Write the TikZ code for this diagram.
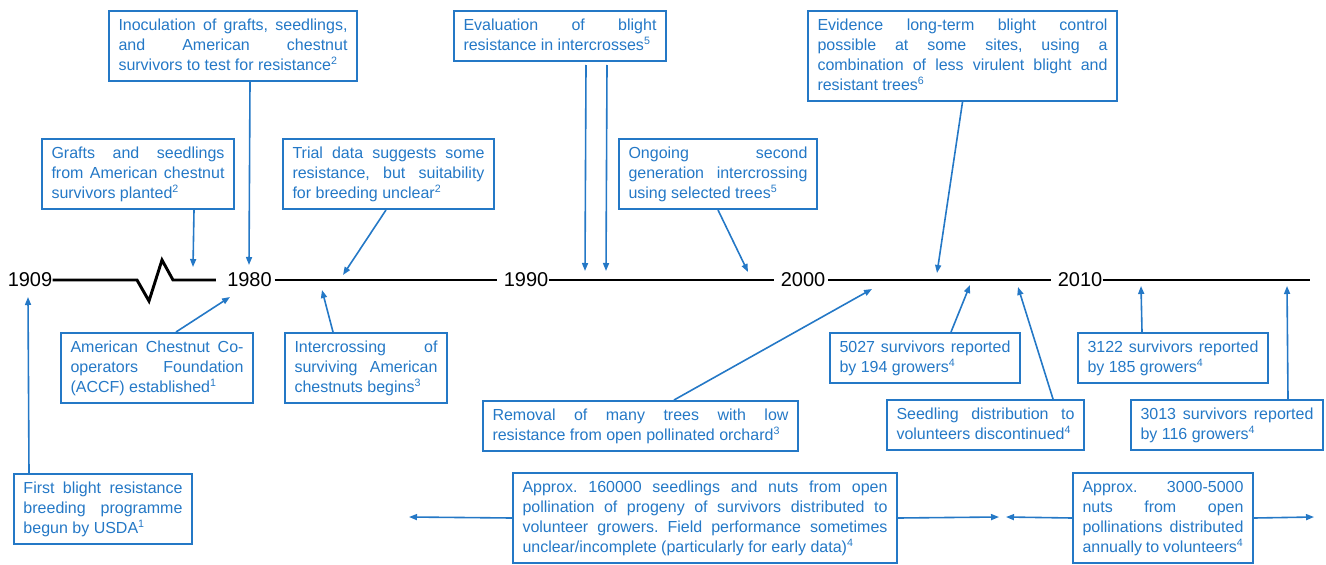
\documentclass[tikz,border=0pt]{standalone}
\usepackage{fontspec}
\setmainfont{Liberation Sans}
\usetikzlibrary{arrows.meta}
\definecolor{evblue}{RGB}{36,120,198}
\begin{document}
\begin{tikzpicture}[x=0.75pt,y=-0.75pt,
  box/.style={draw=evblue, line width=1.5pt, text=evblue, anchor=north west,
    inner xsep=7.125pt, inner ysep=3.75pt, align=justify, text width=#1,
    font={\fontsize{12}{15}\selectfont\frenchspacing\hyphenpenalty=10000\tolerance=9999}},
  year/.style={inner sep=0pt, font={\fontsize{15}{18}\selectfont}},
  arr/.style={draw=evblue, line width=1.2pt, -{Triangle[length=6pt,width=4.5pt]}},
  tl/.style={draw=black, line width=2.2pt}]
\useasboundingbox (0,0) rectangle (1326,564);

% timeline years
\node[year] (y1909) at (30,280) {1909};
\node[year] (y1980) at (249.5,280) {1980};
\node[year] (y1990) at (526,280) {1990};
\node[year] (y2000) at (803,280) {2000};
\node[year] (y2010) at (1080,280) {2010};

% break mark between 1909 and 1980
\coordinate (z1) at (137,280);
\coordinate (z2) at (149,301);
\coordinate (z3) at (162,260);
\coordinate (z4) at (173,280);
\coordinate (tEnd) at (1310,280);
\draw[tl] (y1909.east) -- (z1) -- (z2) -- (z3) -- (z4) -- ([xshift=-8.25pt]y1980.west);
\draw[tl] ([xshift=2pt]y1980.east) -- ([xshift=-4.5pt]y1990.west);
\draw[tl] (y1990.east) -- ([xshift=-5pt]y2000.west);
\draw[tl] ([xshift=2pt]y2000.east) -- ([xshift=-5pt]y2010.west);
\draw[tl] (y2010.east) -- (tEnd);

% events above the timeline
\node[box=171.75pt] (A) at (108,10) {\strut Inoculation of grafts, seedlings, \linebreak and American chestnut \linebreak survivors to test for resistance\textsuperscript{2}\strut};
\node[box=129.75pt] (B) at (41,138) {\strut Grafts and seedlings \linebreak from American chestnut \linebreak survivors planted\textsuperscript{2}\strut};
\node[box=144pt] (C) at (282,138) {\strut Trial data suggests some \linebreak resistance, but suitability \linebreak for breeding unclear\textsuperscript{2}\strut};
\node[box=144.75pt] (D) at (453,10) {\strut Evaluation of blight \linebreak resistance in intercrosses\textsuperscript{5}\strut};
\node[box=134.25pt] (E) at (618,138) {\strut Ongoing second \linebreak generation intercrossing \linebreak using selected trees\textsuperscript{5}\strut};
\node[box=217.5pt] (F) at (807,10) {\strut Evidence long-term blight control \linebreak possible at some sites, using a \linebreak combination of less virulent blight and \linebreak resistant trees\textsuperscript{6}\strut};

% events below the timeline
\node[box=129.75pt] (G) at (60,332) {\strut American Chestnut Co-\linebreak operators Foundation \linebreak (ACCF) established\textsuperscript{1}\strut};
\node[box=107.25pt] (H) at (284,332) {\strut Intercrossing of \linebreak surviving American \linebreak chestnuts begins\textsuperscript{3}\strut};
\node[box=119.25pt] (I) at (13,473) {\strut First blight resistance \linebreak breeding programme \linebreak begun by USDA\textsuperscript{1}\strut};
\node[box=222pt] (J) at (482,400) {\strut Removal of many trees with low \linebreak resistance from open pollinated orchard\textsuperscript{3}\strut};
\node[box=128.25pt] (K) at (829,332) {\strut 5027 survivors reported \linebreak by 194 growers\textsuperscript{4}\strut};
\node[box=133.5pt] (L) at (886,399) {\strut Seedling distribution to \linebreak volunteers discontinued\textsuperscript{4}\strut};
\node[box=128.25pt] (M) at (1077,332) {\strut 3122 survivors reported \linebreak by 185 growers\textsuperscript{4}\strut};
\node[box=129.75pt] (N) at (1130,399) {\strut 3013 survivors reported \linebreak by 116 growers\textsuperscript{4}\strut};
\node[box=273.75pt] (O) at (512,472) {\strut Approx. 160000 seedlings and nuts from open \linebreak pollination of progeny of survivors distributed to \linebreak volunteer growers. Field performance sometimes \linebreak unclear/incomplete (particularly for early data)\textsuperscript{4}\strut};
\node[box=120.75pt] (P) at (1072,472) {\strut Approx. 3000-5000 \linebreak nuts from open \linebreak pollinations distributed \linebreak annually to volunteers\textsuperscript{4}\strut};

% arrow targets on the timeline
\coordinate (tA) at (249,265);
\coordinate (tB) at (193,267);
\coordinate (tC) at (343,275);
\coordinate (tD1) at (585,271);
\coordinate (tD2) at (606,271);
\coordinate (tE) at (748,272);
\coordinate (tF) at (937,273);
\coordinate (tG) at (230,297);
\coordinate (tH) at (322,290);
\coordinate (tI) at (28,297);
\coordinate (tJ) at (872,289);
\coordinate (tK) at (970,285);
\coordinate (tL) at (1018,287);
\coordinate (tM) at (1141,286);
\coordinate (tN) at (1287,286);
\coordinate (oL) at (409,517);
\coordinate (oR) at (999,517);
\coordinate (pL) at (1006,517);
\coordinate (pR) at (1314,517);

\draw[arr] ([xshift=12.75pt]A.south) -- (tA);
\draw[arr] ([xshift=42pt]B.south) -- (tB);
\draw[arr] ([xshift=-1.875pt]C.south) -- (tC);
\draw[arr] ([xshift=19.5pt,yshift=-2.25pt]D.south) -- (tD1);
\draw[arr] ([xshift=35.25pt,yshift=-2.25pt]D.south) -- (tD2);
\draw[arr] (E.south) -- (tE);
\draw[arr] (F.south) -- (tF);
\draw[arr] ([xshift=14.25pt]G.north) -- (tG);
\draw[arr] ([xshift=-24.75pt]H.north) -- (tH);
\draw[arr] ([xshift=-55.5pt]I.north) -- (tI);
\draw[arr] ([xshift=25.125pt]J.north) -- (tJ);
\draw[arr] ([xshift=19.5pt]K.north) -- (tK);
\draw[arr] ([xshift=50.625pt]L.north) -- (tL);
\draw[arr] ([xshift=-23.25pt]M.north) -- (tM);
\draw[arr] ([xshift=45.75pt]N.north) -- (tN);
\draw[arr] (O.west) -- (oL);
\draw[arr] (O.east) -- (oR);
\draw[arr] (P.west) -- (pL);
\draw[arr] (P.east) -- (pR);
\end{tikzpicture}
\end{document}
